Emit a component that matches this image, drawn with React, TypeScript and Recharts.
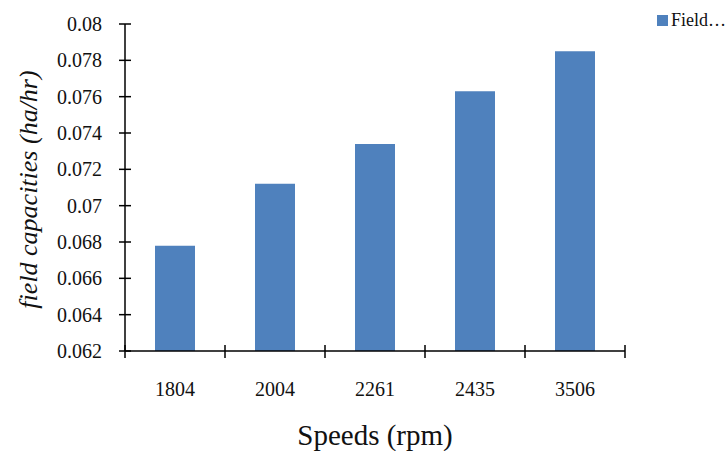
import React from "react";
import { BarChart, Bar, XAxis, YAxis, Legend, Label } from "recharts";

const SPEEDS = ["1804", "2004", "2261", "2435", "3506"];
const CAPACITIES = [0.0678, 0.0712, 0.0734, 0.0763, 0.0785];
const Y_TICKS = [0.062, 0.064, 0.066, 0.068, 0.07, 0.072, 0.074, 0.076, 0.078, 0.08];

const SERIES_NAME = "Field capacities (ha/hr)";
const BAR_COLOR = "#4F81BD";
const FONT = "'Liberation Serif', 'Times New Roman', serif";
const serif = { fontFamily: FONT };

const data = SPEEDS.map((speed, i) => ({ speed, capacity: CAPACITIES[i] }));

const shortLabel = (s: string) => s.split(" ")[0] + "\u2026";

function YTick(props: any) {
  const { x, y, payload } = props;
  return (
    <g>
      <line x1={x - 6} x2={x + 6} y1={y} y2={y} stroke="#000" strokeWidth={1.5} />
      <text x={x - 23} y={y} dy="0.35em" textAnchor="end" fontSize={20} style={serif} fill="#111">
        {String(payload.value)}
      </text>
    </g>
  );
}

// category ticks sit on the band edges, labels in the band centre
function XTick(props: any) {
  const { x, y, payload, index, visibleTicksCount } = props;
  const half = payload.offset || 0;
  const last = index === visibleTicksCount - 1;
  return (
    <g>
      <line x1={x - half} x2={x - half} y1={y - 6} y2={y + 7} stroke="#000" strokeWidth={1.5} />
      {last && <line x1={x + half} x2={x + half} y1={y - 6} y2={y + 7} stroke="#000" strokeWidth={1.5} />}
      <text x={x} y={y + 31} dy="0.71em" textAnchor="middle" fontSize={20} style={serif} fill="#111">
        {payload.value}
      </text>
    </g>
  );
}

function LegendBox({ payload }: any) {
  return (
    <div style={{ display: "flex", alignItems: "center", height: 16, fontFamily: FONT, fontSize: 18, color: "#111", whiteSpace: "nowrap" }}>
      {(payload || []).map((entry: any) => (
        <span key={entry.value} style={{ display: "flex", alignItems: "center" }}>
          <span style={{ width: 11, height: 11, background: BAR_COLOR, marginRight: 3, display: "inline-block" }} />
          {shortLabel(entry.value)}
        </span>
      ))}
    </div>
  );
}

export default function App() {
  return (
    <div style={{ position: "absolute", left: 0, top: 0, background: "#fff", fontFamily: FONT }}>
      <BarChart
        width={727}
        height={451}
        data={data}
        margin={{ top: 8, right: 102, bottom: 0, left: 0 }}
        barCategoryGap="30%"
        style={serif}
      >
        <Legend
          verticalAlign="top"
          align="right"
          content={<LegendBox />}
          wrapperStyle={{ left: 657, top: 12, width: 70 }}
        />
        <XAxis
          dataKey="speed"
          height={100}
          axisLine={{ stroke: "#000", strokeWidth: 1.5 }}
          tickLine={false}
          tickSize={0}
          tickMargin={0}
          tick={<XTick />}
        >
          <Label
            content={({ viewBox }: any) => (
              <text
                x={viewBox.x + viewBox.width / 2}
                y={viewBox.y + 94}
                textAnchor="middle"
                fontSize={29}
                style={serif}
                fill="#111"
              >
                Speeds (rpm)
              </text>
            )}
          />
        </XAxis>
        <YAxis
          width={125}
          domain={[0.062, 0.08]}
          ticks={Y_TICKS}
          allowDataOverflow
          axisLine={{ stroke: "#000", strokeWidth: 1.5 }}
          tickLine={false}
          tickSize={0}
          tickMargin={0}
          tick={<YTick />}
        >
          <Label
            content={({ viewBox }: any) => {
              const cx = viewBox.x + 28;
              const cy = viewBox.y + viewBox.height / 2 + 2;
              return (
                <text
                  x={cx}
                  y={cy}
                  transform={`rotate(-90, ${cx}, ${cy})`}
                  textAnchor="middle"
                  dominantBaseline="central"
                  fontSize={26}
                  fontStyle="italic"
                  style={serif}
                  fill="#111"
                >
                  field capacities (ha/hr)
                </text>
              );
            }}
          />
        </YAxis>
        <Bar
          dataKey="capacity"
          name={SERIES_NAME}
          fill={BAR_COLOR}
          isAnimationActive={false}
        />
      </BarChart>
    </div>
  );
}
